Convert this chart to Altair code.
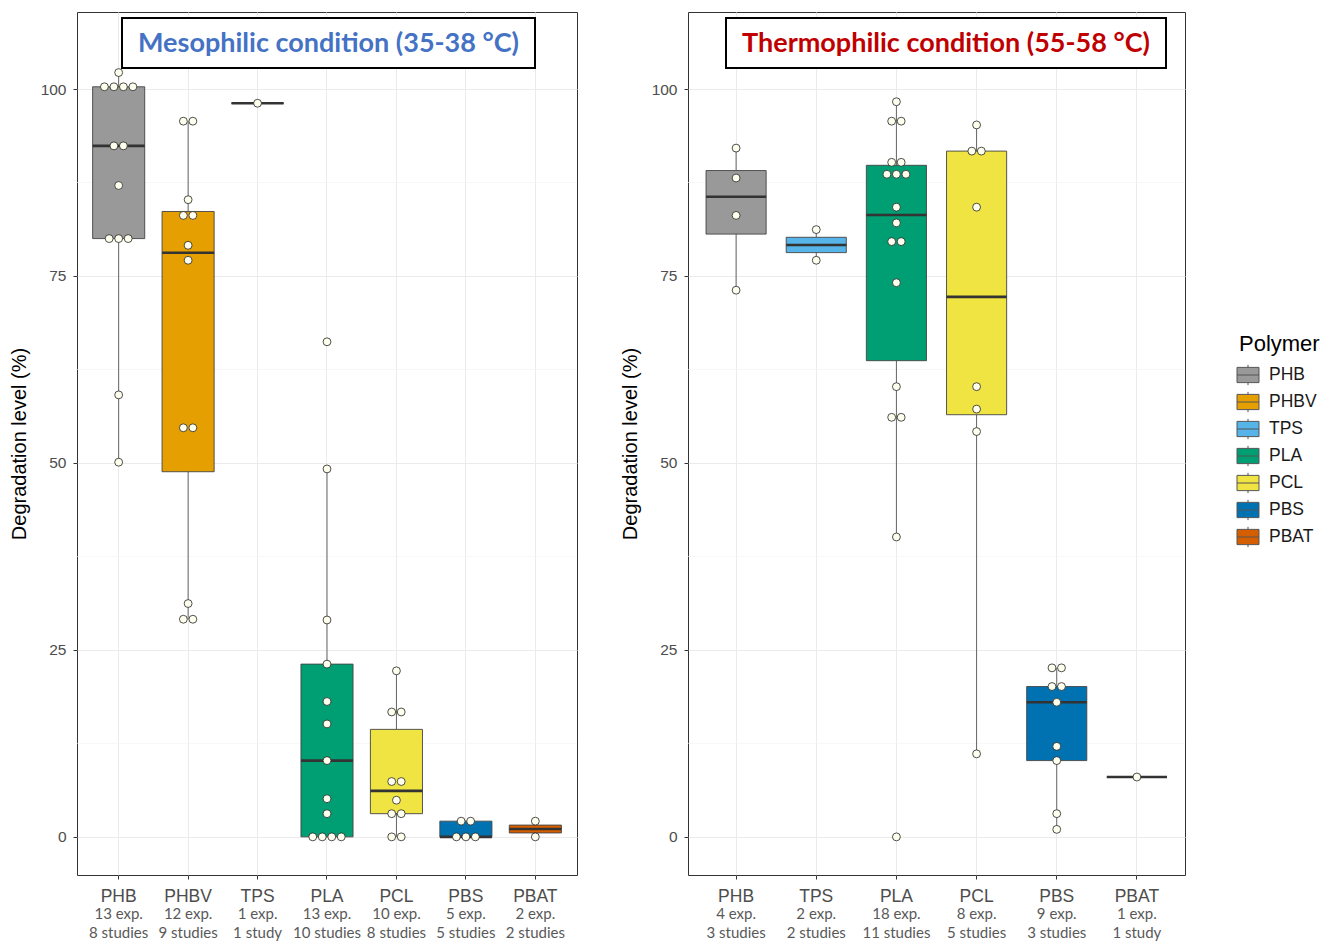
import altair as alt
import pandas as pd

# ---------------- data ----------------
polymers_all = ["PHB", "PHBV", "TPS", "PLA", "PCL", "PBS", "PBAT"]
palette = ["#999999", "#E69F00", "#56B4E9", "#009E73", "#F0E442", "#0072B2", "#D55E00"]

meso_cats = ["PHB", "PHBV", "TPS", "PLA", "PCL", "PBS", "PBAT"]
meso_exp = [13, 12, 1, 13, 10, 5, 2]
meso_studies = [8, 9, 1, 10, 8, 5, 2]
meso_PHB = [102.2, 100.3, 100.3, 100.3, 100.3, 92.4, 92.4, 87.1, 80.0, 80.0, 80.0, 59.1, 50.1]
meso_PHBV = [95.7, 95.7, 85.2, 83.1, 83.1, 79.1, 77.1, 54.7, 54.7, 31.2, 29.1, 29.1]
meso_TPS = [98.1]
meso_PLA = [66.2, 49.2, 29.0, 23.1, 18.1, 15.1, 10.2, 5.1, 3.1, 0.0, 0.0, 0.0, 0.0]
meso_PCL = [22.2, 16.7, 16.7, 7.4, 7.4, 4.9, 3.1, 3.1, 0.0, 0.0]
meso_PBS = [2.1, 2.1, 0.0, 0.0, 0.0]
meso_PBAT = [2.1, 0.0]

thermo_cats = ["PHB", "TPS", "PLA", "PCL", "PBS", "PBAT"]
thermo_exp = [4, 2, 18, 8, 9, 1]
thermo_studies = [3, 2, 11, 5, 3, 1]
thermo_PHB = [92.1, 88.1, 83.1, 73.1]
thermo_TPS = [81.2, 77.1]
thermo_PLA = [98.3, 95.7, 95.7, 90.2, 90.2, 88.6, 88.6, 88.6, 84.2, 82.1, 79.6, 79.6,
              74.1, 60.2, 56.1, 56.1, 40.1, 0.0]
thermo_PCL = [95.2, 91.7, 91.7, 84.2, 60.2, 57.2, 54.2, 11.1]
thermo_PBS = [22.6, 22.6, 20.1, 20.1, 18.0, 12.1, 10.2, 3.1, 1.0]
thermo_PBAT = [8.0]

minor_grid = [12.5, 37.5, 62.5, 87.5]
major_ticks = [0, 25, 50, 75, 100]

meso_values = {"PHB": meso_PHB, "PHBV": meso_PHBV, "TPS": meso_TPS, "PLA": meso_PLA,
               "PCL": meso_PCL, "PBS": meso_PBS, "PBAT": meso_PBAT}
thermo_values = {"PHB": thermo_PHB, "TPS": thermo_TPS, "PLA": thermo_PLA,
                 "PCL": thermo_PCL, "PBS": thermo_PBS, "PBAT": thermo_PBAT}


def build_df(values):
    rows = []
    for cat, vals in values.items():
        counts = {}
        for v in vals:
            counts[v] = counts.get(v, 0) + 1
        seen = {}
        for v in vals:
            r = seen.get(v, 0)
            seen[v] = r + 1
            rows.append({"cat": cat, "value": v, "off": r - (counts[v] - 1) / 2})
    return pd.DataFrame(rows)


def label_df(cats, exps, studies):
    return pd.DataFrame({
        "cat": cats,
        "exp": [f"{e} exp." for e in exps],
        "stud": [f"{s} study" if s == 1 else f"{s} studies" for s in studies],
    })


H = 863
YDOM = [-5.1, 110.3]
DOT = 9.5
PAD_IN = 0.25
PAD_OUT = 0.225
YTITLE = "Degradation level (%)"

legend = alt.Legend(
    title="Polymer", orient="none", legendX=1162, legendY=322,
    titleFontSize=22, titleFontWeight="normal", titleColor="#000000", titlePadding=10,
    labelFontSize=17.5, labelColor="#1a1a1a", labelOffset=12,
    symbolType="M-1.3,-0.9H1.3V0.9H-1.3Z M-1.3,0H1.3 M0,-0.9V-1.2 M0,0.9V1.2",
    symbolSize=286, symbolStrokeColor="#555555", symbolStrokeWidth=1,
    symbolOpacity=1, rowPadding=1,
)


def panel(values, cats, exps, studies, width, title, title_color, box_x):
    df = build_df(values)
    n = len(cats)
    step = width / (n - PAD_IN + 2 * PAD_OUT)
    band = step * (1 - PAD_IN)
    k = band / (2 * DOT)

    xscale = alt.Scale(domain=cats, paddingInner=PAD_IN, paddingOuter=PAD_OUT)
    yscale = alt.Scale(domain=YDOM, nice=False, zero=False)
    yaxis = alt.Axis(values=major_ticks, labelFontSize=15.5, labelColor="#4d4d4d",
                     tickSize=4, tickColor="#333333", labelPadding=7,
                     domain=False, grid=True, gridColor="#ebebeb",
                     titleFontSize=20, titleFontWeight="normal",
                     titleColor="#000000", titlePadding=11)
    xenc = alt.X("cat:N", scale=xscale, sort=cats, title=None,
                 axis=alt.Axis(labelAngle=0, labelFontSize=17.5, labelColor="#4d4d4d",
                               labelPadding=8, tickSize=4, tickColor="#333333",
                               domain=False, grid=True, gridColor="#ebebeb",
                               bandPosition=0.5, labelFont="Liberation Sans"))
    yenc = alt.Y("value:Q", scale=yscale, title=YTITLE, axis=yaxis)

    minor = alt.Chart(pd.DataFrame({"value": minor_grid})).mark_rule(
        color="#f2f2f2", strokeWidth=0.6).encode(y=yenc)

    box = alt.Chart(df).mark_boxplot(
        extent=1.5, size=band, outliers=False, median=False,
        box=alt.MarkConfig(stroke="#444444", strokeWidth=0.9),
        rule=alt.MarkConfig(color="#555555", strokeWidth=0.9),
    ).encode(
        x=xenc, y=yenc,
        color=alt.Color("cat:N", scale=alt.Scale(domain=polymers_all, range=palette),
                        legend=legend),
    )

    med = alt.Chart(df).mark_tick(color="#333333", thickness=2.6, size=band, opacity=1).encode(
        x=xenc,
        y=alt.Y("value:Q", aggregate="median", scale=yscale, title=YTITLE, axis=yaxis),
    )

    pts = alt.Chart(df).mark_circle(
        color="#FFFFEE", stroke="#222222", strokeWidth=0.8, size=62, opacity=1
    ).encode(
        x=xenc, y=yenc,
        xOffset=alt.XOffset("off:Q", scale=alt.Scale(domain=[-k, k], nice=False, zero=False)),
    )

    ldf = label_df(cats, exps, studies)
    sub1 = alt.Chart(ldf).mark_text(font="Lato", fontSize=15, color="#595959").encode(
        x=xenc, y=alt.value(H + 39), text="exp:N")
    sub2 = alt.Chart(ldf).mark_text(font="Lato", fontSize=15, color="#595959").encode(
        x=xenc, y=alt.value(H + 58), text="stud:N")

    tdf = pd.DataFrame({"t": [title]})
    tbox = alt.Chart(tdf).mark_rect(fill="white", stroke="black", strokeWidth=2).encode(
        x=alt.value(box_x[0]), x2=alt.value(box_x[1]), y=alt.value(6), y2=alt.value(56))
    ttext = alt.Chart(tdf).mark_text(font="Lato", fontSize=27, fontWeight="bold",
                                     color=title_color).encode(
        x=alt.value((box_x[0] + box_x[1]) / 2), y=alt.value(32), text="t:N")

    return alt.layer(minor, box, med, pts, sub1, sub2, tbox, ttext).properties(
        width=width, height=H).resolve_scale(xOffset="independent")


left = panel(meso_values, meso_cats, meso_exp, meso_studies, 500,
             "Mesophilic condition (35-38 °C)", "#4472C4", (45, 458))
right = panel(thermo_values, thermo_cats, thermo_exp, thermo_studies, 497,
              "Thermophilic condition (55-58 °C)", "#C00000", (38, 478))

chart = alt.hconcat(left, right, spacing=41).resolve_scale(
    x="independent", y="independent", xOffset="independent", color="shared"
).properties(
    padding={"left": 0, "top": 3, "right": 0, "bottom": 0}
).configure(font="Liberation Sans", background="white").configure_view(
    stroke="#333333", strokeWidth=1
)

chart.save("out.html", embed_options={"renderer": "svg", "actions": False})
